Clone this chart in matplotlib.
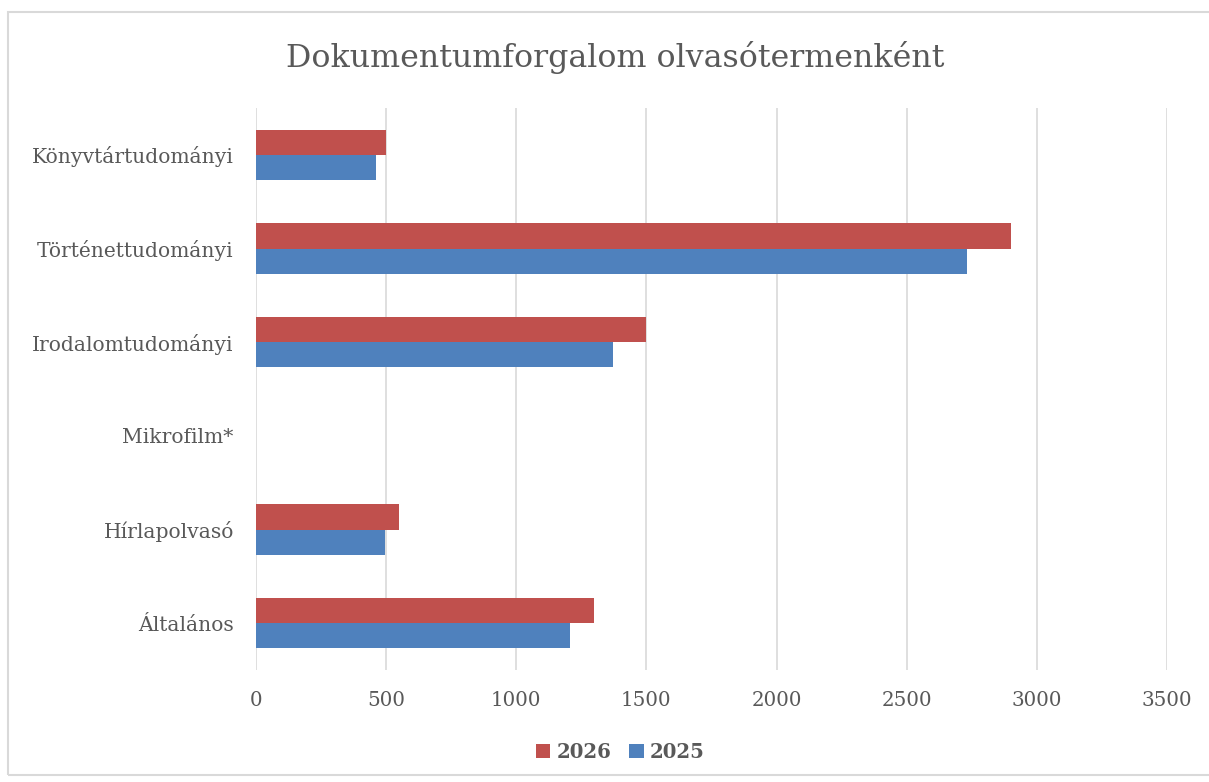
import matplotlib
matplotlib.use("Agg")
import matplotlib.pyplot as plt
from matplotlib.patches import Rectangle, Patch
import numpy as np

categories = ["Általános", "Hírlapolvasó", "Mikrofilm*", "Irodalomtudományi",
              "Történettudományi", "Könyvtártudományi"]
values_2025 = [1208, 495, 0, 1373, 2733, 460]
values_2026 = [1300, 550, 0, 1500, 2900, 500]
series_labels = ["2026", "2025"]
xticks = [0, 500, 1000, 1500, 2000, 2500, 3000, 3500]
title = "Dokumentumforgalom olvasótermenként"

RED = "#C0504D"
BLUE = "#4F81BD"
TXT = "#595959"
FONT = ["DejaVu Serif"]

plt.rcParams["font.family"] = FONT

fig = plt.figure(figsize=(12.09, 7.82), dpi=100)
fig.patches.append(Rectangle((8 / 1209, 7 / 782), 1.0, 763 / 782, transform=fig.transFigure,
                             fill=False, edgecolor="#d9d9d9", linewidth=1.5))

ax = fig.add_axes([256 / 1209, 112 / 782, (1167 - 256) / 1209, (674 - 112) / 782])

y = np.arange(len(categories))
h = 0.268
ax.barh(y - h / 2, values_2025, height=h, color=BLUE, zorder=3)
ax.barh(y + h / 2, values_2026, height=h, color=RED, zorder=3)

ax.set_xlim(0, 3500)
ax.set_ylim(-0.5, len(categories) - 0.5)
ax.set_xticks(xticks)
ax.set_xticklabels([str(t) for t in xticks], fontsize=14.3, color=TXT)
ax.set_yticks(y)
ax.set_yticklabels(categories, fontsize=14.6, color=TXT)
ax.tick_params(axis="both", length=0)
ax.tick_params(axis="x", pad=15)
ax.tick_params(axis="y", pad=16)
ax.grid(axis="x", color="#d9d9d9", linewidth=1.2, zorder=0)
for s in ax.spines.values():
    s.set_visible(False)

fig.text(615 / 1209, 1 - 58 / 782, title, ha="center", va="center", fontsize=22.8, color=TXT)

handles = [Patch(facecolor=RED), Patch(facecolor=BLUE)]
fig.legend(handles, series_labels, loc="center", bbox_to_anchor=(620 / 1209, 1 - 752 / 782),
           ncol=2, frameon=False, handlelength=0.75, handleheight=0.75,
           handletextpad=0.3, columnspacing=0.9, labelcolor=TXT,
           prop={"family": FONT, "size": 14.2, "weight": "bold"})

fig.savefig("out.png", dpi=100)
